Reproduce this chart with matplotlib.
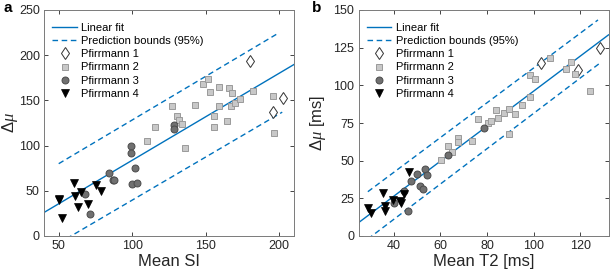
import matplotlib
matplotlib.use('Agg')
import matplotlib.pyplot as plt
import numpy as np

plt.rcParams['font.family'] = ['Liberation Sans', 'DejaVu Sans']
plt.rcParams['mathtext.fontset'] = 'custom'
plt.rcParams['mathtext.it'] = 'Liberation Serif:italic'
plt.rcParams['mathtext.rm'] = 'Liberation Sans'

# ---- panel a: Mean SI vs delta mu ----
a_p1_x = [180.4, 202.2, 195.5]
a_p1_y = [193.8, 152.2, 136.8]
a_p2_x = [110.0, 115.6, 127.0, 130.6, 131.9, 133.5, 135.9, 142.9, 148.4, 151.8, 152.9, 159.2,
          159.2, 155.4, 155.6, 165.8, 167.9, 167.4, 170.1, 173.2, 164.3, 181.9, 196.0, 196.7]
a_p2_y = [105.5, 121.0, 143.8, 132.4, 128.0, 123.9, 97.4, 145.2, 168.4, 173.5, 158.8, 164.7,
          143.8, 133.1, 120.2, 163.2, 158.1, 143.4, 147.1, 151.5, 127.6, 160.7, 154.4, 114.0]
a_p3_x = [98.9, 98.9, 84.4, 86.6, 87.9, 101.8, 99.8, 103.3, 128.6, 128.6, 68.1, 71.0]
a_p3_y = [99.3, 91.5, 69.9, 62.5, 62.1, 75.0, 57.4, 58.8, 122.4, 118.0, 46.0, 24.6]
a_p4_x = [50.0, 50.4, 52.2, 60.5, 61.4, 62.9, 65.2, 69.9, 75.4, 78.6]
a_p4_y = [41.2, 39.7, 20.2, 58.5, 44.1, 31.6, 48.2, 35.7, 56.6, 49.3]
a_fit = (0.963, -12.5)           # slope, intercept
a_xlim = (40, 210)
a_upper = ([50, 200], [80, 225])
a_lower = ([50, 202], [-8, 137])

# ---- panel b: Mean T2 vs delta mu ----
b_p1_x = [103.0, 119.0, 128.2]
b_p1_y = [114.6, 110.2, 124.6]
b_p2_x = [60.4, 63.5, 65.2, 67.7, 67.5, 73.7, 76.0, 80.5, 81.7, 83.7, 84.6, 87.3, 89.5,
          89.5, 91.9, 94.8, 98.3, 98.6, 100.5, 106.9, 114.0, 116.1, 117.8, 124.0]
b_p2_y = [50.4, 59.7, 55.5, 64.8, 62.2, 63.3, 77.4, 74.8, 76.5, 83.6, 78.5, 81.9, 84.1,
          67.5, 80.8, 86.9, 92.0, 106.9, 104.0, 117.9, 110.8, 115.3, 107.5, 96.5]
b_p3_x = [40.0, 44.4, 46.0, 47.6, 50.1, 51.4, 52.8, 53.5, 54.3, 63.2, 78.7]
b_p3_y = [22.1, 30.1, 16.8, 36.5, 41.2, 33.2, 31.0, 44.5, 40.5, 53.8, 71.9]
b_p4_x = [29.1, 30.5, 35.3, 36.5, 36.5, 39.6, 42.9, 43.1, 44.6, 46.7]
b_p4_y = [18.4, 15.5, 28.3, 19.9, 16.8, 23.9, 23.5, 21.7, 27.9, 42.7]
b_fit = (1.165, -20.3)
b_xlim = (25, 132)
b_upper = ([29, 127.5], [29.4, 143.4])
b_lower = ([29, 128.2], [-2, 114.6])

blue = '#0072BD'
axcol = '#262626'


def panel(ax, fit, xlim, upper, lower, p1, p2, p3, p4, ylim, yticks, xticks, xlabel, ylabel,
          ylab_x):
    xf = np.array(xlim)
    ax.plot(xf, fit[0] * xf + fit[1], color=blue, lw=1.0, label='Linear fit')
    ax.plot(upper[0], upper[1], color=blue, lw=1.0, dashes=(4, 2.6),
            label='Prediction bounds (95%)')
    ax.plot(lower[0], lower[1], color=blue, lw=1.0, dashes=(4, 2.6))
    ax.plot(p1[0], p1[1], ls='none', marker='d', ms=6.0, mfc='white', mec='#333333',
            mew=0.7, label='Pfirrmann 1')
    ax.plot(p2[0], p2[1], ls='none', marker='s', ms=4.0, mfc='#c8c8c8', mec='#9a9a9a',
            mew=0.7, label='Pfirrmann 2')
    ax.plot(p3[0], p3[1], ls='none', marker='o', ms=5.0, mfc='#707070', mec='#4a4a4a',
            mew=0.7, label='Pfirrmann 3')
    ax.plot(p4[0], p4[1], ls='none', marker='v', ms=5.5, mfc='black', mec='black',
            mew=0.5, label='Pfirrmann 4')
    ax.set_xlim(xlim)
    ax.set_ylim(ylim)
    ax.set_xticks(xticks)
    ax.set_yticks(yticks)
    ax.tick_params(direction='in', top=True, right=True, length=3, width=0.6,
                   labelsize=9, colors=axcol, pad=3)
    for s in ax.spines.values():
        s.set_color('#7a7a7a')
        s.set_linewidth(0.7)
    ax.set_xlabel(xlabel, fontsize=12, color=axcol, labelpad=1)
    ax.set_ylabel(ylabel, fontsize=12, color=axcol)
    ax.yaxis.set_label_coords(ylab_x, 0.5)
    ax.legend(loc='upper left', bbox_to_anchor=(0, 0.979), frameon=False, fontsize=8,
              handlelength=2.2, handletextpad=0.4, labelspacing=0.28,
              borderaxespad=0.55, borderpad=0.2)


fig = plt.figure(figsize=(6.1, 2.72), dpi=100)
ax1 = fig.add_axes([44 / 610, 36 / 272, 250 / 610, 226 / 272])
ax2 = fig.add_axes([358.5 / 610, 36 / 272, 250 / 610, 226 / 272])

panel(ax1, a_fit, a_xlim, a_upper, a_lower, (a_p1_x, a_p1_y), (a_p2_x, a_p2_y),
      (a_p3_x, a_p3_y), (a_p4_x, a_p4_y), (0, 250), [0, 50, 100, 150, 200, 250],
      [50, 100, 150, 200], 'Mean SI', r'$\Delta\mu$', -0.098)
panel(ax2, b_fit, b_xlim, b_upper, b_lower, (b_p1_x, b_p1_y), (b_p2_x, b_p2_y),
      (b_p3_x, b_p3_y), (b_p4_x, b_p4_y), (0, 150), [0, 25, 50, 75, 100, 125, 150],
      [40, 60, 80, 100, 120], 'Mean T2 [ms]', r'$\Delta\mu$ [ms]', -0.123)

fig.text(3 / 610, 1 - 12 / 272, 'a', fontsize=11, fontweight='bold')
fig.text(312 / 610, 1 - 12 / 272, 'b', fontsize=11, fontweight='bold')

fig.savefig('out.png', dpi=100)
